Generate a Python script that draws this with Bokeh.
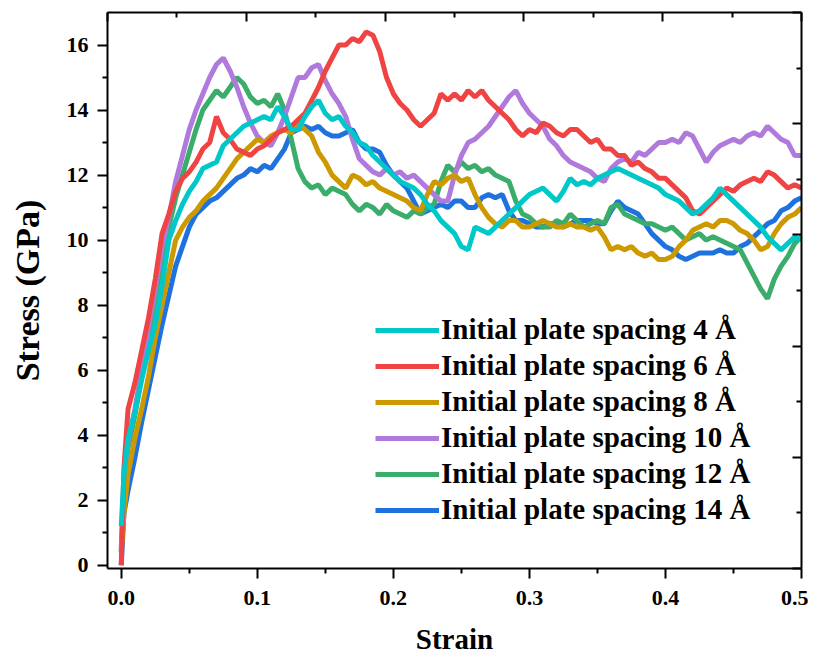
from bokeh.plotting import figure
from bokeh.models import Range1d, LinearAxis, FixedTicker, Legend, LegendItem, NumeralTickFormatter
from bokeh.embed import file_html
from bokeh.resources import INLINE

strain = [0, 0.002, 0.005, 0.01, 0.015, 0.02, 0.025, 0.03, 0.035, 0.04,
          0.045, 0.05, 0.055, 0.06, 0.065, 0.07, 0.075, 0.08, 0.085, 0.09,
          0.095, 0.1, 0.105, 0.11, 0.115, 0.12, 0.125, 0.13, 0.135, 0.14,
          0.145, 0.15, 0.155, 0.16, 0.165, 0.17, 0.175, 0.18, 0.185, 0.19,
          0.195, 0.2, 0.205, 0.21, 0.215, 0.22, 0.225, 0.23, 0.235, 0.24,
          0.245, 0.25, 0.255, 0.26, 0.265, 0.27, 0.275, 0.28, 0.285, 0.29,
          0.295, 0.3, 0.305, 0.31, 0.315, 0.32, 0.325, 0.33, 0.335, 0.34,
          0.345, 0.35, 0.355, 0.36, 0.365, 0.37, 0.375, 0.38, 0.385, 0.39,
          0.395, 0.4, 0.405, 0.41, 0.415, 0.42, 0.425, 0.43, 0.435, 0.44,
          0.445, 0.45, 0.455, 0.46, 0.465, 0.47, 0.475, 0.48, 0.485, 0.49,
          0.495, 0.5]

s4 = [1.2, 2.8, 3.9, 4.7, 5.7, 6.6, 7.4, 8.6, 10.0, 10.6,
      11.1, 11.5, 11.8, 12.2, 12.3, 12.4, 12.9, 13.1, 13.3, 13.5,
      13.6, 13.7, 13.8, 13.7, 14.1, 13.8, 13.4, 13.4, 13.8, 14.1,
      14.3, 13.9, 13.7, 13.8, 13.5, 13.3, 13.0, 12.9, 12.6, 12.4,
      12.2, 12.0, 11.8, 11.7, 11.6, 11.4, 11.1, 10.9, 10.6, 10.4,
      10.2, 9.8, 9.7, 10.4, 10.3, 10.2, 10.4, 10.6, 10.8, 11.0,
      11.2, 11.4, 11.5, 11.6, 11.4, 11.2, 11.5, 11.9, 11.7, 11.8,
      11.7, 11.9, 12.0, 12.1, 12.2, 12.1, 12.0, 11.9, 11.8, 11.7,
      11.6, 11.4, 11.3, 11.2, 11.0, 10.8, 10.9, 11.1, 11.3, 11.6,
      11.4, 11.2, 11.0, 10.8, 10.6, 10.4, 10.1, 9.9, 9.7, 9.9,
      10.1, 10.0]

s6 = [0, 3.0, 4.8, 5.6, 6.6, 7.6, 8.8, 10.2, 10.8, 11.5,
      11.9, 12.1, 12.4, 12.8, 13.0, 13.8, 13.3, 13.1, 12.8, 12.7,
      12.6, 12.8, 12.9, 13.1, 13.3, 13.4, 13.5, 13.7, 13.9, 14.3,
      14.7, 15.2, 15.6, 16.0, 16.0, 16.2, 16.1, 16.4, 16.3, 15.8,
      15.0, 14.5, 14.2, 14.0, 13.7, 13.5, 13.7, 13.9, 14.5, 14.3,
      14.5, 14.3, 14.6, 14.4, 14.6, 14.3, 14.1, 13.9, 13.7, 13.4,
      13.2, 13.4, 13.3, 13.6, 13.5, 13.3, 13.2, 13.4, 13.4, 13.2,
      13.0, 13.1, 12.8, 12.8, 12.6, 12.6, 12.3, 12.4, 12.2, 12.1,
      11.9, 11.9, 11.7, 11.5, 11.3, 10.9, 10.8, 11.0, 11.2, 11.4,
      11.6, 11.5, 11.7, 11.8, 11.9, 11.8, 12.1, 12.0, 11.8, 11.6,
      11.7, 11.6]

s8 = [0.4, 1.6, 2.8, 3.9, 4.8, 5.8, 7.0, 8.0, 9.0, 10.0,
      10.4, 10.7, 10.9, 11.2, 11.4, 11.6, 11.9, 12.2, 12.5, 12.7,
      12.9, 13.1, 13.0, 13.2, 13.3, 13.4, 13.3, 13.6, 13.4, 13.2,
      12.7, 12.4, 12.0, 11.8, 11.6, 12.0, 11.9, 11.7, 11.8, 11.6,
      11.5, 11.4, 11.3, 11.2, 11.0, 10.9, 11.4, 11.8, 11.7, 11.9,
      12.0, 11.8, 11.9, 11.4, 11.0, 10.7, 10.5, 10.4, 10.6, 10.6,
      10.4, 10.4, 10.5, 10.6, 10.5, 10.4, 10.4, 10.5, 10.4, 10.4,
      10.3, 10.4, 10.1, 9.7, 9.8, 9.7, 9.8, 9.6, 9.5, 9.6,
      9.4, 9.4, 9.5, 9.8, 10.0, 10.3, 10.4, 10.5, 10.4, 10.6,
      10.6, 10.5, 10.3, 10.2, 10.0, 9.7, 9.8, 10.2, 10.5, 10.7,
      10.8, 11.0]

s10 = [0.5, 2.5, 3.8, 4.8, 6.0, 7.3, 8.5, 9.8, 10.7, 11.8,
       12.6, 13.4, 14.0, 14.5, 15.0, 15.4, 15.6, 15.2, 14.7, 14.1,
       13.6, 13.2, 13.0, 12.9, 13.3, 13.8, 14.4, 15.0, 15.0, 15.3,
       15.4, 14.9, 14.5, 14.2, 13.8, 13.1, 12.5, 12.3, 12.1, 12.0,
       12.2, 12.0, 12.1, 11.9, 12.0, 11.8, 11.6, 11.4, 11.2, 11.2,
       12.0, 12.6, 13.0, 13.1, 13.3, 13.5, 13.8, 14.1, 14.4, 14.6,
       14.2, 13.9, 13.7, 13.5, 13.1, 12.9, 12.6, 12.4, 12.3, 12.2,
       12.1, 11.9, 11.8, 12.2, 12.4, 12.5, 12.4, 12.7, 12.6, 12.8,
       13.0, 13.0, 13.1, 13.0, 13.3, 13.2, 12.8, 12.4, 12.7, 12.9,
       13.0, 13.1, 13.0, 13.2, 13.3, 13.2, 13.5, 13.3, 13.1, 13.0,
       12.6, 12.6]

s12 = [0.4, 2.3, 3.6, 4.6, 5.8, 7.0, 8.2, 9.4, 10.4, 11.3,
       12.0, 12.7, 13.4, 14.0, 14.3, 14.6, 14.4, 14.7, 15.0, 14.8,
       14.4, 14.2, 14.3, 14.1, 14.5, 14.0, 13.1, 12.2, 11.8, 11.6,
       11.7, 11.4, 11.6, 11.5, 11.4, 11.1, 10.9, 11.1, 11.0, 10.8,
       11.1, 10.9, 10.8, 10.7, 10.9, 10.8, 11.0, 11.1, 11.8, 12.3,
       12.1, 12.4, 12.2, 12.3, 12.1, 12.2, 12.0, 11.9, 11.8, 11.2,
       10.8, 10.7, 10.5, 10.4, 10.4, 10.6, 10.5, 10.8, 10.6, 10.4,
       10.5, 10.6, 10.5, 11.0, 11.1, 10.8, 10.7, 10.6, 10.5, 10.5,
       10.4, 10.3, 10.4, 10.2, 10.0, 10.1, 10.2, 10.0, 10.1, 10.0,
       9.9, 9.8, 9.7, 9.3, 8.9, 8.5, 8.2, 8.8, 9.2, 9.5,
       9.9, 10.1]

s14 = [0.0, 1.6, 2.3, 3.3, 4.4, 5.4, 6.4, 7.4, 8.3, 9.2,
       9.8, 10.4, 10.8, 11.0, 11.2, 11.3, 11.5, 11.7, 11.9, 12.0,
       12.2, 12.1, 12.3, 12.2, 12.5, 12.8, 13.3, 13.4, 13.5, 13.4,
       13.5, 13.3, 13.2, 13.2, 13.3, 13.4, 13.0, 12.8, 12.8, 12.7,
       12.3, 12.0, 11.8, 11.6, 11.2, 10.8, 10.9, 11.0, 11.1, 11.0,
       11.2, 11.2, 11.0, 11.0, 11.3, 11.4, 11.3, 11.4, 10.9, 10.6,
       10.6, 10.5, 10.4, 10.4, 10.5, 10.5, 10.4, 10.5, 10.6, 10.6,
       10.6, 10.5, 10.5, 10.9, 11.2, 11.0, 10.9, 10.8, 10.5, 10.2,
       10.0, 9.8, 9.7, 9.5, 9.4, 9.5, 9.6, 9.6, 9.6, 9.7,
       9.6, 9.6, 9.8, 9.9, 10.1, 10.3, 10.5, 10.6, 10.9, 11.0,
       11.2, 11.3]

labels = ["Initial plate spacing 4 Å", "Initial plate spacing 6 Å", "Initial plate spacing 8 Å",
          "Initial plate spacing 10 Å", "Initial plate spacing 12 Å", "Initial plate spacing 14 Å"]
series = [s4, s6, s8, s10, s12, s14]
colors = ["#00C8C8", "#F04444", "#CC9900", "#B07ADC", "#3AAD6A", "#1E72E0"]

x_major = [0, 0.1, 0.2, 0.3, 0.4, 0.5]
x_minor = [0.05, 0.15, 0.25, 0.35, 0.45]
y_major = [0, 2, 4, 6, 8, 10, 12, 14, 16]
y_minor = [1, 3, 5, 7, 9, 11, 13, 15]
r_major = [0, 2, 4, 6, 8, 10]
r_minor = [1, 3, 5, 7, 9]

FONT = "Liberation Serif"

p = figure(width=808, height=657, output_backend="svg", toolbar_location=None,
           x_range=Range1d(-0.0101, 0.5), y_range=Range1d(-0.1, 17),
           min_border_left=107, min_border_right=7, min_border_top=12, min_border_bottom=87)
p.extra_x_ranges = {"top": Range1d(0, 0.5)}
p.extra_y_ranges = {"right": Range1d(0, 10)}
p.xgrid.visible = False
p.ygrid.visible = False
p.outline_line_color = None
p.background_fill_color = "white"

draw_order = [5, 4, 3, 2, 1, 0]
renderers = {}
for i in draw_order:
    renderers[i] = p.line(strain, series[i], line_color=colors[i], line_width=5)


def style_axis(ax, out_ticks, labels_on):
    ax.axis_line_width = 2
    ax.axis_line_color = "black"
    ax.major_tick_line_width = 2
    ax.minor_tick_line_width = 2
    ax.major_tick_line_color = "black"
    ax.minor_tick_line_color = "black"
    if out_ticks:
        ax.major_tick_out = 10
        ax.major_tick_in = 0
        ax.minor_tick_out = 5
        ax.minor_tick_in = 0
    else:
        ax.major_tick_out = 0
        ax.major_tick_in = 9
        ax.minor_tick_out = 0
        ax.minor_tick_in = 5
    if labels_on:
        ax.major_label_text_font = FONT
        ax.major_label_text_font_style = "bold"
        ax.major_label_text_font_size = "22px"
        ax.major_label_text_color = "black"
        ax.axis_label_text_font = FONT
        ax.axis_label_text_font_style = "bold"
        ax.axis_label_text_font_size = "29px"
        ax.axis_label_text_color = "black"
    else:
        ax.major_label_text_font_size = "0px"
        ax.major_label_standoff = 0


xa = p.xaxis[0]
xa.ticker = FixedTicker(ticks=x_major, minor_ticks=x_minor)
xa.formatter = NumeralTickFormatter(format="0.0")
xa.axis_label = "Strain"
style_axis(xa, True, True)
xa.major_label_standoff = 12
xa.axis_label_standoff = 15

ya = p.yaxis[0]
ya.ticker = FixedTicker(ticks=y_major, minor_ticks=y_minor)
ya.axis_label = "Stress (GPa)"
style_axis(ya, True, True)
ya.axis_label_text_font_size = "34px"
ya.major_label_standoff = 9
ya.axis_label_standoff = 18

top = LinearAxis(x_range_name="top", ticker=FixedTicker(ticks=x_major, minor_ticks=x_minor))
style_axis(top, False, False)
p.add_layout(top, "above")

right = LinearAxis(y_range_name="right", ticker=FixedTicker(ticks=r_major, minor_ticks=r_minor))
style_axis(right, False, False)
p.add_layout(right, "right")

legend = Legend(items=[LegendItem(label=labels[i], renderers=[renderers[i]]) for i in range(6)],
                location=(268, 42), glyph_width=64, glyph_height=30, label_height=30,
                spacing=3, padding=0, margin=0, label_standoff=2,
                background_fill_alpha=0, border_line_color=None,
                label_text_font=FONT, label_text_font_style="bold",
                label_text_font_size="29px", label_text_color="black")
p.add_layout(legend)

open("out.html", "w").write(file_html(p, INLINE))
